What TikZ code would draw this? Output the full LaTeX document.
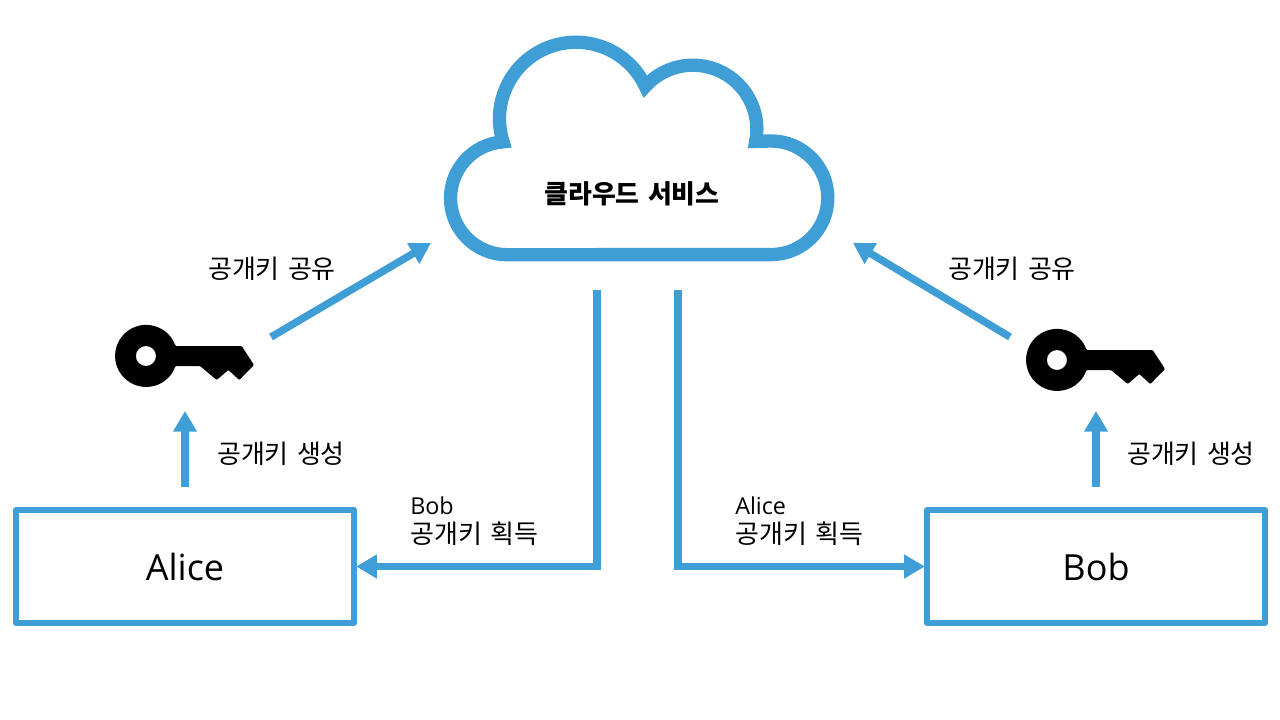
\documentclass[tikz,border=0pt]{standalone}
\usepackage{fontspec}
\setmainfont{Noto Sans CJK KR}[WordSpace=1.4]
\newfontfamily\latinfont{Open Sans}
\usetikzlibrary{arrows.meta}
\definecolor{skyline}{HTML}{409ED7}
\tikzset{
  flow/.style={draw=skyline, line width=5.6pt, -{Triangle[length=15.5pt,width=17pt]}},
  party/.style={draw=skyline, line width=4.4pt, line join=round, fill=white, minimum width=253.5pt,
    minimum height=84.75pt, inner sep=0pt, outer sep=1.6pt, font=\latinfont\fontsize{27}{30}\selectfont},
  note/.style={font=\fontsize{19.5}{19.5}\selectfont, inner sep=0pt},
  pubkey/.pic={
    \fill[black, even odd rule, rounded corners=0.7pt] (-10,0) arc[start angle=180, end angle=-180, radius=10] -- cycle
      (29.4,-10) -- (95.7,-10) -- (108,9) -- (93.3,24) -- (82.3,14) -- (70.7,24) -- (54,10) -- (29.4,10)
        arc[start angle=19, end angle=341, radius=31] -- cycle;
  }
}
\begin{document}
\begin{tikzpicture}[x=0.75pt, y=-0.75pt]
  \useasboundingbox (0,0) rectangle (1280,720);
  % Define nodes
  \draw[skyline, line width=10pt, fill=white, miter limit=10] (507,254.7)
    arc[start angle=90, end angle=266, radius=56.5]
    arc[start angle=162.4, end angle=335, radius=76.5]
    arc[start angle=222, end angle=371, radius=64]
    -- (771,141) arc[start angle=270, end angle=450, radius=56.8] -- cycle;
  \node[note, font=\bfseries\fontsize{19.4}{19.4}\selectfont] (cloudname) at (632,194) {클라우드 서비스};
  \node[party] (alice) at (185,566.5) {Alice};
  \node[party] (bob) at (1096,566.5) {Bob};
  \pic (keyleft) at (146,356) {pubkey};
  \pic (keyright) at (1057,360) {pubkey};
  \node[note] (shareleft) at (272,269) {공개키 공유};
  \node[note] (shareright) at (1012,269) {공개키 공유};
  \node[note] (makeleft) at (281,454) {공개키 생성};
  \node[note] (makeright) at (1191,454) {공개키 생성};
  \node[note, anchor=west, align=left] (getbob) at (410,521) {{\latinfont\fontsize{17.5}{19.5}\selectfont Bob}\\[1.8pt]공개키 획득};
  \node[note, anchor=west, align=left] (getalice) at (735,521) {{\latinfont\fontsize{17.5}{19.5}\selectfont Alice}\\[1.8pt]공개키 획득};
  \coordinate (keyleftout) at (271,337);
  \coordinate (keyrightout) at (1010,337);
  \coordinate (cloudleft) at (431,243);
  \coordinate (cloudright) at (853,243);
  \coordinate (keyleftin) at (185,411);
  \coordinate (keyrightin) at (1096,411);
  \coordinate (cloudoutleft) at (597,290);
  \coordinate (cloudoutright) at (678,290);
  % Connect nodes
  \draw[flow] (keyleftout) -- (cloudleft);
  \draw[flow] (keyrightout) -- (cloudright);
  \draw[flow, shorten <=15.75pt] (alice.north) -- (keyleftin);
  \draw[flow, shorten <=15.75pt] (bob.north) -- (keyrightin);
  \draw[flow] (cloudoutleft) |- (alice.east);
  \draw[flow] (cloudoutright) |- (bob.west);
\end{tikzpicture}
\end{document}
